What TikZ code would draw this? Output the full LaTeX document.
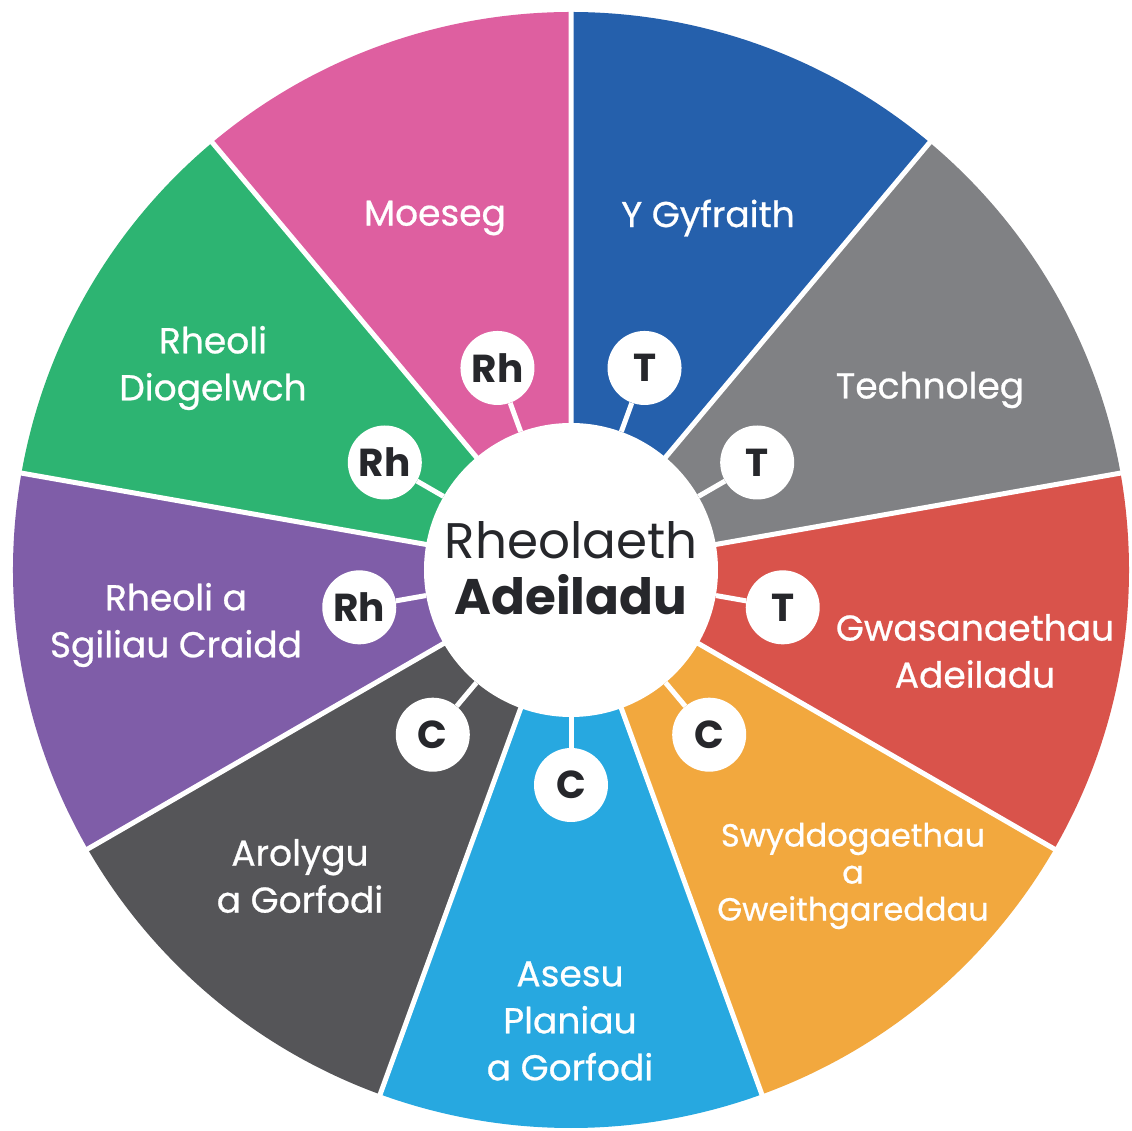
\documentclass[tikz,border=0pt]{standalone}
\usepackage{fontspec}
\setmainfont{Poppins}
\newfontfamily\labelfont{Poppins}[FakeBold=0.7]
\usetikzlibrary{positioning}

\definecolor{moeseg}{HTML}{DE5FA0}
\definecolor{cyfraith}{HTML}{2560AC}
\definecolor{technoleg}{HTML}{808184}
\definecolor{gwasanaeth}{HTML}{D9534B}
\definecolor{swydd}{HTML}{F2A83E}
\definecolor{asesu}{HTML}{27A8E0}
\definecolor{arolygu}{HTML}{555558}
\definecolor{sgiliau}{HTML}{7F5DA8}
\definecolor{diogelwch}{HTML}{2DB472}
\definecolor{inkdark}{HTML}{26272B}

\begin{document}
\begin{tikzpicture}[x=1pt,y=1pt,
  seg label/.style={text=white, align=center, font=\labelfont\fontsize{36}{47}\selectfont},
  badge/.style={circle, fill=white, minimum size=74pt, inner sep=0pt, text=inkdark, font=\fontsize{39}{39}\selectfont\bfseries},
  link/.style={draw=white, line width=5pt}]
\fill[white] (-571,-561) rectangle (561,570);
\useasboundingbox (-571,-561) rectangle (561,570);

% wheel
\fill[cyfraith] (0,0) -- (50:558) arc (50:90:558) -- cycle;
\fill[moeseg] (0,0) -- (90:558) arc (90:130:558) -- cycle;
\fill[diogelwch] (0,0) -- (130:558) arc (130:170:558) -- cycle;
\fill[sgiliau] (0,0) -- (170:558) arc (170:210:558) -- cycle;
\fill[arolygu] (0,0) -- (210:558) arc (210:250:558) -- cycle;
\fill[asesu] (0,0) -- (250:558) arc (250:290:558) -- cycle;
\fill[swydd] (0,0) -- (290:558) arc (290:330:558) -- cycle;
\fill[gwasanaeth] (0,0) -- (330:558) arc (330:370:558) -- cycle;
\fill[technoleg] (0,0) -- (10:558) arc (10:50:558) -- cycle;
\draw[white, line width=5pt] (0,0) -- (90:562) (0,0) -- (50:562) (0,0) -- (10:562)
  (0,0) -- (-30:562) (0,0) -- (-70:562) (0,0) -- (-110:562) (0,0) -- (-150:562)
  (0,0) -- (-190:562) (0,0) -- (-230:562);

\node[circle, fill=white, minimum size=294pt, inner sep=0pt] (centre) at (0,0) {};
\node[text=inkdark, align=center, font=\fontsize{50}{56}\selectfont] (title) at (0,2) {Rheolaeth\\\textbf{Adeiladu}};

\node[seg label] (l1) at (-136,352) {Moeseg};
\node[seg label] (l2) at (137,352) {Y Gyfraith};
\node[seg label] (l3) at (359,180) {Technoleg};
\node[seg label] (l4) at (404,-81) {Gwasanaethau\\Adeiladu};
\node[seg label, font=\labelfont\fontsize{32}{37}\selectfont] (l5) at (282,-306) {Swyddogaethau\\a\\Gweithgareddau};
\node[seg label] (l6) at (-1,-451) {Asesu\\Planiau\\a Gorfodi};
\node[seg label] (l7) at (-271,-306) {Arolygu\\a Gorfodi};
\node[seg label] (l8) at (-395,-55) {Rheoli a\\Sgiliau Craidd};
\node[seg label] (l9) at (-358,202) {Rheoli\\Diogelwch};

\node[badge] (b1) at (110:215) {Rh};
\node[badge] (b2) at (70:215) {T};
\node[badge] (b3) at (30:215) {T};
\node[badge] (b4) at (-10:215) {T};
\node[badge] (b5) at (-50:215) {C};
\node[badge] (b6) at (-90:215) {C};
\node[badge] (b7) at (-130:215) {C};
\node[badge] (b8) at (-170:215) {Rh};
\node[badge] (b9) at (150:215) {Rh};

\path[link]
(b1) edge (centre)
(b2) edge (centre)
(b3) edge (centre)
(b4) edge (centre)
(b5) edge (centre)
(b6) edge (centre)
(b7) edge (centre)
(b8) edge (centre)
(b9) edge (centre);
\end{tikzpicture}
\end{document}
